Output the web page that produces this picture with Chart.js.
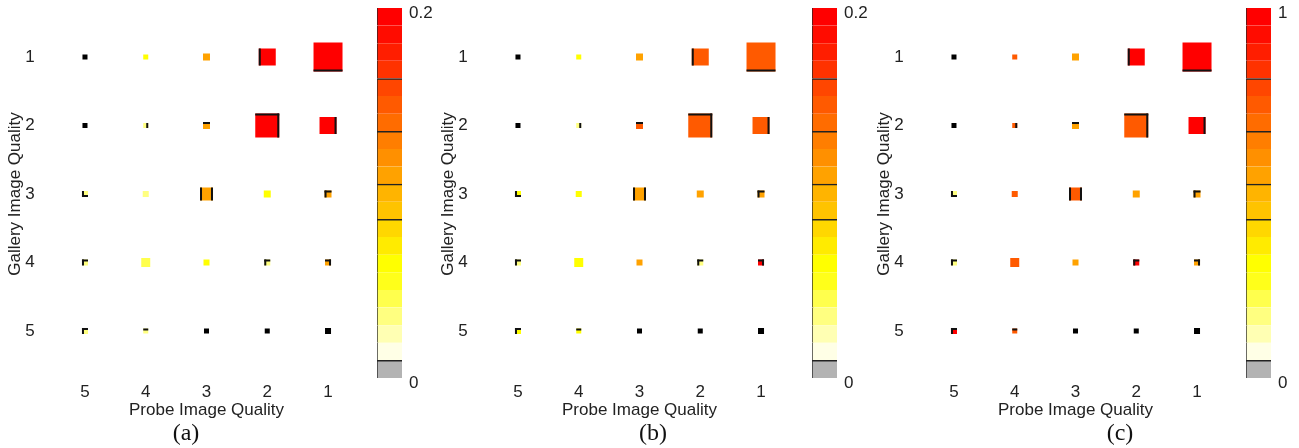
<!DOCTYPE html>
<html>
<head>
<meta charset="utf-8">
<script src="https://cdn.jsdelivr.net/npm/chart.js@4.4.0/dist/chart.umd.min.js"></script>
<style>
  body { margin: 0; background: #fff; width: 1299px; height: 448px; overflow: hidden; position: relative; }
  canvas { position: absolute; top: 0; }
  .cap { position: absolute; top: 419px; font-family: "Liberation Serif", "Times New Roman", serif;
         font-size: 24px; line-height: 26px; transform: translateX(-50%); color: #111; }
</style>
</head>
<body>
<canvas id="gridA" width="433" height="448" style="left:0px"></canvas>
<canvas id="barA" width="72" height="448" style="left:370px"></canvas>
<canvas id="gridB" width="433" height="448" style="left:433px"></canvas>
<canvas id="barB" width="72" height="448" style="left:805px"></canvas>
<canvas id="gridC" width="430" height="448" style="left:869px"></canvas>
<canvas id="barC" width="72" height="448" style="left:1239px"></canvas>
<div class="cap" style="left:186px">(a)</div>
<div class="cap" style="left:653px">(b)</div>
<div class="cap" style="left:1120px">(c)</div>
<script>
// axis categories, left to right and top to bottom
const probeQualities = [5, 4, 3, 2, 1];
const galleryQualities = [1, 2, 3, 4, 5];

// relative share of each cell (square area), rows = gallery 1..5, cols = probe 5..1
const cellWeight = [
    [0.03, 0.03, 0.058, 0.344, 1.0],
    [0.03, 0.03, 0.058, 0.685, 0.344],
    [0.043, 0.043, 0.2, 0.058, 0.058],
    [0.043, 0.096, 0.043, 0.043, 0.043],
    [0.043, 0.03, 0.03, 0.03, 0.043]
];

// sides that carry a dark edge
const cellEdges = [
    ['', '', '', 'L', 'B'],
    ['', 'R', 'T', 'TR', 'R'],
    ['LB', '', 'LR', '', 'TL'],
    ['TL', '', '', 'TL', 'TR'],
    ['TL', 'T', '', '', '']
];

// colour values per panel (null = no value, drawn black)
const valuesA = [
    [null, 0.062, 0.11, 0.195, 0.195],
    [null, 0.033, 0.11, 0.195, 0.195],
    [0.033, 0.033, 0.11, 0.062, 0.11],
    [0.033, 0.04, 0.062, 0.033, 0.11],
    [0.033, 0.033, null, null, null]
];
const valuesB = [
    [null, 0.062, 0.11, 0.148, 0.148],
    [null, 0.033, 0.148, 0.148, 0.148],
    [0.062, 0.062, 0.11, 0.11, 0.11],
    [0.033, 0.062, 0.11, 0.033, 0.195],
    [0.062, 0.062, null, null, null]
];
const valuesC = [
    [null, 0.74, 0.55, 0.975, 0.975],
    [null, 0.74, 0.55, 0.74, 0.975],
    [0.16, 0.74, 0.74, 0.55, 0.55],
    [0.16, 0.74, 0.55, 0.975, 0.55],
    [0.975, 0.74, null, null, null]
];

// colour bar: bands bottom to top, bands with a line on top, tick labels
const bandColors = ['#b3b3b3', '#ffffe6', '#ffffb3', '#ffff80', '#ffff4d', '#ffff1a', '#ffff00',
    '#ffeb00', '#ffd700', '#ffc300', '#ffb400', '#ffa200', '#ff9000', '#ff7e00', '#ff6c00',
    '#ff5a00', '#ff4600', '#ff3200', '#ff1e00', '#ff0c00', '#ff0000'];
const bandLines = [0, 8, 10, 13, 16];
const colorTicksAB = [0, 0.2];
const colorTicksC = [0, 1];

const FONT = { family: "'Liberation Sans', Arial, sans-serif", size: 17 };
const TEXT = '#222';

function sidePx(w) {
    return 29 * Math.sqrt(w);
}

function colorFor(v, max) {
    if (v === null || v === undefined) return '#000';
    const i = Math.min(bandColors.length - 1, Math.floor(v / max * bandColors.length));
    return bandColors[i];
}

// draws the dark edges on the squares, using the point positions from the chart
const edgePlugin = {
    id: 'edges',
    afterDatasetsDraw(chart) {
        const ctx = chart.ctx;
        const ds = chart.data.datasets[0];
        chart.getDatasetMeta(0).data.forEach((pt, i) => {
            const raw = ds.data[i];
            const s = sidePx(raw.w), h = s / 2;
            ctx.save();
            ctx.fillStyle = '#111';
            for (const side of raw.e) {
                if (side === 'L') ctx.fillRect(pt.x - h, pt.y - h, 2, s);
                if (side === 'R') ctx.fillRect(pt.x + h - 2, pt.y - h, 2, s);
                if (side === 'T') ctx.fillRect(pt.x - h, pt.y - h, s, 2);
                if (side === 'B') ctx.fillRect(pt.x - h, pt.y + h - 2, s, 2);
            }
            ctx.restore();
        });
    }
};

function gridChart(id, values, colorMax) {
    const canvas = document.getElementById(id);
    const points = [];
    galleryQualities.forEach((g, r) => {
        probeQualities.forEach((p, c) => {
            points.push({ x: p, y: g, w: cellWeight[r][c], v: values[r][c], e: cellEdges[r][c] });
        });
    });

    new Chart(canvas, {
        type: 'scatter',
        data: {
            datasets: [{
                data: points,
                pointStyle: 'rect',
                pointRadius: ctx => ctx.raw ? sidePx(ctx.raw.w) / Math.SQRT2 : 3,
                pointBackgroundColor: ctx => ctx.raw ? colorFor(ctx.raw.v, colorMax) : '#000',
                pointBorderWidth: 0
            }]
        },
        options: {
            responsive: false,
            animation: false,
            events: [],
            layout: { padding: { top: 22.75, right: canvas.width - 358.4, left: 0, bottom: 0 } },
            plugins: { legend: { display: false }, tooltip: { enabled: false } },
            scales: {
                x: {
                    type: 'linear', min: 0.5, max: 5.5, reverse: true,
                    grid: { display: false, drawTicks: false }, border: { display: false },
                    afterBuildTicks: s => { s.ticks = probeQualities.map(v => ({ value: v })); },
                    afterFit: s => { s.height = 82.75; s.paddingLeft = 0; s.paddingRight = 0; },
                    ticks: { font: FONT, color: TEXT, padding: 16.5, maxRotation: 0 },
                    title: { display: true, text: 'Probe Image Quality', font: FONT, color: TEXT,
                             padding: { top: 0, bottom: 27.8 } }
                },
                y: {
                    type: 'linear', min: 0.5, max: 5.5, reverse: true,
                    grid: { display: false, drawTicks: false }, border: { display: false },
                    afterBuildTicks: s => { s.ticks = galleryQualities.map(v => ({ value: v })); },
                    afterFit: s => { s.width = 54.6; s.paddingTop = 0; s.paddingBottom = 0; },
                    ticks: { font: FONT, color: TEXT, padding: 20 },
                    title: { display: true, text: 'Gallery Image Quality', font: FONT, color: TEXT,
                             padding: { top: 4.8, bottom: 0 } }
                }
            }
        },
        plugins: [edgePlugin]
    });
}

function colorbarChart(id, colorMax, tickValues) {
    const band = colorMax / bandColors.length;
    new Chart(document.getElementById(id), {
        type: 'bar',
        data: {
            labels: [''],
            datasets: bandColors.map((c, i) => ({
                data: [band],
                backgroundColor: c,
                borderColor: '#222',
                borderWidth: { top: bandLines.includes(i) ? 1.5 : 0, left: 1, right: 0, bottom: 0 },
                borderSkipped: false,
                barPercentage: 1,
                categoryPercentage: 1
            }))
        },
        options: {
            responsive: false,
            animation: false,
            events: [],
            layout: { padding: { left: 7, top: 8, bottom: 70, right: 0 } },
            plugins: { legend: { display: false }, tooltip: { enabled: false } },
            scales: {
                x: { display: false, stacked: true },
                y: {
                    stacked: true, position: 'right', min: 0, max: colorMax,
                    grid: { display: false, drawTicks: false }, border: { display: false },
                    afterBuildTicks: s => { s.ticks = tickValues.map(v => ({ value: v })); },
                    afterFit: s => { s.width = 40; s.paddingTop = 0; s.paddingBottom = 0; },
                    ticks: { font: FONT, color: TEXT, padding: 7, labelOffset: 5, callback: v => String(v) }
                }
            }
        }
    });
}

gridChart('gridA', valuesA, 0.2);
colorbarChart('barA', 0.2, colorTicksAB);
gridChart('gridB', valuesB, 0.2);
colorbarChart('barB', 0.2, colorTicksAB);
gridChart('gridC', valuesC, 1);
colorbarChart('barC', 1, colorTicksC);
</script>
</body>
</html>
